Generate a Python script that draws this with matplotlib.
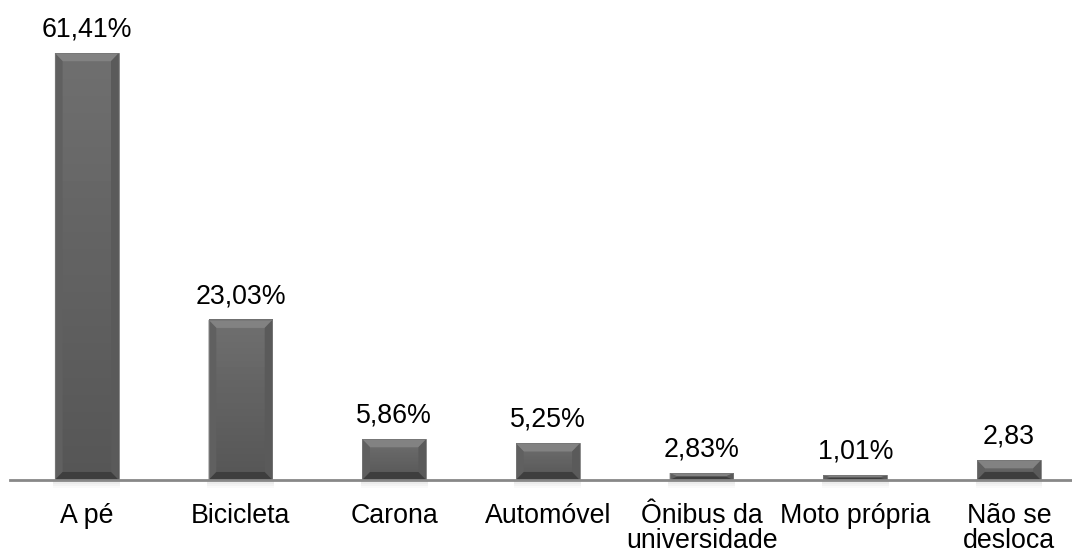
import numpy as np
import matplotlib.pyplot as plt
from matplotlib.patches import Polygon

plt.rcParams['font.family'] = ['Liberation Sans', 'DejaVu Sans']

# dados
categorias = ['A pé', 'Bicicleta', 'Carona', 'Automóvel', 'Ônibus da\nuniversidade',
              'Moto própria', 'Não se\ndesloca']
alturas = [61.41, 23.03, 5.86, 5.25, 1.0, 0.7, 2.83]
rotulos = ['61,41%', '23,03%', '5,86%', '5,25%', '2,83%', '1,01%', '2,83']

fig = plt.figure(figsize=(10.72, 5.54), dpi=100)
ax = fig.add_axes([0.0093, 0.1336, 0.9907, 0.8664])

x = np.arange(len(categorias))
larg = 0.415
ax.set_xlim(-0.5, 6.41)
ax.set_ylim(0, 69.06)

# barras com efeito de bisel
bars = ax.bar(x, alturas, width=larg, color='#4e4e4e', edgecolor='none', zorder=2)
bx = 0.05    # bisel horizontal (dados)
by = 1.15    # bisel vertical (dados)
for b in bars:
    x0, x1 = b.get_x(), b.get_x() + b.get_width()
    h = b.get_height()
    v = min(by, h / 2)
    # gradiente vertical na face (mais claro em cima)
    grad = np.linspace(0, 1, 50).reshape(-1, 1)
    ax.imshow(grad, extent=(x0, x1, 0, h), cmap='Greys_r', vmin=-2.87, vmax=7.88,
              aspect='auto', origin='lower', zorder=2.1)
    ax.add_patch(Polygon([(x0, h), (x1, h), (x1 - bx, h - v), (x0 + bx, h - v)],
                         closed=True, facecolor='#828282', edgecolor='none', zorder=3))
    ax.add_patch(Polygon([(x0, 0), (x0, h), (x0 + bx, h - v), (x0 + bx, v)],
                         closed=True, facecolor='#606060', edgecolor='none', zorder=3))
    ax.add_patch(Polygon([(x1, 0), (x1, h), (x1 - bx, h - v), (x1 - bx, v)],
                         closed=True, facecolor='#5a5a5a', edgecolor='none', zorder=3))
    ax.add_patch(Polygon([(x0, 0), (x1, 0), (x1 - bx, v), (x0 + bx, v)],
                         closed=True, facecolor='#3e3e3e', edgecolor='none', zorder=3))
    ax.add_patch(plt.Rectangle((x0, 0), x1 - x0, h, facecolor='none',
                               edgecolor='#777777', linewidth=0.6, zorder=3.5))
    # sombra abaixo do eixo
    for k, a in enumerate([0.22, 0.15, 0.09, 0.04]):
        ax.add_patch(plt.Rectangle((x0 - 0.01, -0.3 * (k + 1)), x1 - x0 + 0.02, 0.3,
                                   facecolor='#808080', alpha=a, edgecolor='none',
                                   clip_on=False, zorder=1))

for xi, h, r in zip(x, alturas, rotulos):
    ax.annotate(r, (xi, h), xytext=(0, 12), textcoords='offset points',
                ha='center', va='baseline', fontsize=19.3, color='black')

ax.set_xticks(x)
ax.set_xticklabels(categorias, fontsize=19.3, linespacing=0.95)
ax.tick_params(axis='x', length=0, pad=16.5)
ax.set_yticks([])
for s in ['top', 'right', 'left']:
    ax.spines[s].set_visible(False)
ax.spines['bottom'].set_color('#888888')
ax.spines['bottom'].set_linewidth(2)
ax.spines['bottom'].set_zorder(4)

fig.savefig('out.png', dpi=100)
